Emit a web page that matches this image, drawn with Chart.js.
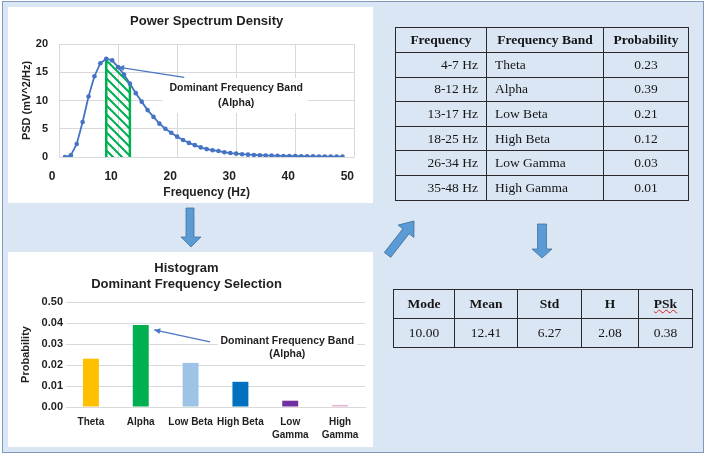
<!DOCTYPE html>
<html>
<head>
<meta charset="utf-8">
<script src="https://cdn.jsdelivr.net/npm/chart.js@4.4.1/dist/chart.umd.min.js"></script>
<style>
  html, body { margin: 0; padding: 0; background: #fff; }
  body { width: 708px; height: 457px; position: relative; overflow: hidden; }
  #frame { position: absolute; left: 2px; top: 1px; width: 700px; height: 450px;
           background: #dbe6f4; border: 1.5px solid #7f98bd; }
  canvas { position: absolute; background: #fff; }
  #psd { left: 8px; top: 7px; }
  #hist { left: 8px; top: 252px; }
  svg { position: absolute; left: 0; top: 0; }
  table { position: absolute; border-collapse: collapse; table-layout: fixed;
          font-family: "Liberation Serif", "Times New Roman", serif; font-size: 13.5px; color: #151515; }
  td, th { border: 1.3px solid #2a2a2a; padding: 0 8px; white-space: nowrap; }
  th { font-weight: bold; text-align: center; }
  #bands { left: 395px; top: 27px; }
  #bands tr { height: 24.6px; }
  #bands tr:first-child { height: 25px; }
  #bands td:nth-child(1) { text-align: right; }
  #bands td:nth-child(2) { text-align: left; }
  #bands td:nth-child(3) { text-align: center; }
  #stats { left: 393px; top: 289px; }
  #stats tr { height: 29px; }
  #stats td { text-align: center; }
  .spell { text-decoration: underline wavy #e02020; text-decoration-thickness: 1px; }
</style>
</head>
<body>
<div id="frame"></div>
<canvas id="psd" width="365" height="196"></canvas>
<canvas id="hist" width="365" height="195"></canvas>
<svg width="708" height="457">
  <g fill="#5b9bd5" stroke="#41719c" stroke-width="0.8">
    <polygon points="186,208 194,208 194,237 201,237 191,247 181,237 186,237"/>
    <polygon points="537.5,224 546.5,224 546.5,249 552,249 542,258 532,249 537.5,249"/>
    <polygon transform="translate(414,221) rotate(38)" points="0,0 10,13 4,13 4,43 -4,43 -4,13 -10,13"/>
  </g>
</svg>
<table id="bands"></table>
<table id="stats"></table>
<script>
// power spectrum (Hz, mV^2/Hz)
const freqs = [1, 2, 3, 4, 5, 6, 7, 8, 9, 10, 11, 12, 13, 14, 15, 16, 17, 18, 19, 20, 21, 22, 23, 24,
  25, 26, 27, 28, 29, 30, 31, 32, 33, 34, 35, 36, 37, 38, 39, 40, 41, 42, 43, 44, 45, 46, 47, 48];
const psd = [0, 0.3, 2.3, 6.2, 10.7, 14.3, 16.6, 17.4, 17.1, 15.9, 14.6, 13.0, 11.3, 9.8, 8.3, 7.1,
  5.9, 5.0, 4.3, 3.6, 3.0, 2.5, 2.1, 1.7, 1.4, 1.2, 1.05, 0.85, 0.7, 0.6, 0.5, 0.42,
  0.36, 0.31, 0.27, 0.24, 0.21, 0.19, 0.17, 0.15, 0.13, 0.12, 0.11, 0.10, 0.09, 0.08, 0.07, 0.06];
const alphaBand = [8, 12];

// band table
const bandRanges = ['4-7 Hz', '8-12 Hz', '13-17 Hz', '18-25 Hz', '26-34 Hz', '35-48 Hz'];
const bandNames = ['Theta', 'Alpha', 'Low Beta', 'High Beta', 'Low Gamma', 'High Gamma'];
const bandProb = ['0.23', '0.39', '0.21', '0.12', '0.03', '0.01'];

// histogram
const histLabels = ['Theta', 'Alpha', 'Low Beta', 'High Beta', ['Low', 'Gamma'], ['High', 'Gamma']];
const histValues = [0.023, 0.039, 0.021, 0.012, 0.003, 0.001];
const histColors = ['#ffc000', '#00b050', '#9dc3e6', '#0070c0', '#7030a0', '#e8b4d4'];
const histTicks = ['0.00', '0.01', '0.02', '0.03', '0.04', '0.50'];

// summary stats
const statNames = ['Mode', 'Mean', 'Std', 'H', 'PSk'];
const statValues = ['10.00', '12.41', '6.27', '2.08', '0.38'];

// tables
let html = '<colgroup><col style="width:91px"><col style="width:117px"><col style="width:85px"></colgroup>';
html += '<tr><th>Frequency</th><th>Frequency Band</th><th>Probability</th></tr>';
bandRanges.forEach((r, i) => {
  html += `<tr><td>${r}</td><td>${bandNames[i]}</td><td>${bandProb[i]}</td></tr>`;
});
document.getElementById('bands').innerHTML = html;

const statW = [61, 63, 64, 57, 54];
html = '<colgroup>' + statW.map(w => `<col style="width:${w}px">`).join('') + '</colgroup>';
html += '<tr>' + statNames.map(n => n === 'PSk' ? `<th><span class="spell">${n}</span></th>` : `<th>${n}</th>`).join('') + '</tr>';
html += '<tr>' + statValues.map(v => `<td>${v}</td>`).join('') + '</tr>';
document.getElementById('stats').innerHTML = html;

Chart.defaults.font.family = '"Liberation Sans", Arial, sans-serif';
Chart.defaults.color = '#1f1f1f';

const gridColor = '#d9d9d9';
const txt = '#1f1f1f';

function makeHatch() {
  const c = document.createElement('canvas');
  c.width = 9; c.height = 9;
  const g = c.getContext('2d');
  g.strokeStyle = '#00b050';
  g.lineWidth = 2;
  g.beginPath();
  g.moveTo(-1, -1); g.lineTo(10, 10);
  g.moveTo(-1, 8); g.lineTo(1, 10);
  g.moveTo(8, -1); g.lineTo(10, 1);
  g.stroke();
  return g.createPattern(c, 'repeat');
}

// text box + arrow drawn in data coordinates
const callout = {
  id: 'callout',
  beforeDatasetsDraw(chart, args, o) {
    const { ctx, scales: { x, y } } = chart;
    ctx.save();
    ctx.fillStyle = '#fff';
    const bx0 = x.getPixelForValue(o.box[0]), bx1 = x.getPixelForValue(o.box[2]);
    const by0 = y.getPixelForValue(o.box[1]), by1 = y.getPixelForValue(o.box[3]);
    ctx.fillRect(bx0, by0, bx1 - bx0, by1 - by0);
    ctx.fillStyle = txt;
    ctx.font = 'bold 10.5px "Liberation Sans", Arial, sans-serif';
    ctx.textAlign = 'center';
    ctx.textBaseline = 'middle';
    o.lines.forEach((t, i) => {
      ctx.fillText(t, x.getPixelForValue(o.textX), y.getPixelForValue(o.textY[i]));
    });
    ctx.restore();
  },
  afterDatasetsDraw(chart, args, o) {
    const { ctx, scales: { x, y } } = chart;
    const tx = x.getPixelForValue(o.tip[0]), ty = y.getPixelForValue(o.tip[1]);
    const sx = x.getPixelForValue(o.tail[0]), sy = y.getPixelForValue(o.tail[1]);
    ctx.save();
    ctx.strokeStyle = '#4a76c2';
    ctx.fillStyle = '#4a76c2';
    ctx.lineWidth = 1.3;
    ctx.beginPath();
    ctx.moveTo(sx, sy);
    ctx.lineTo(tx, ty);
    ctx.stroke();
    const a = Math.atan2(ty - sy, tx - sx);
    ctx.beginPath();
    ctx.moveTo(tx, ty);
    ctx.lineTo(tx - 6 * Math.cos(a) + 3 * Math.sin(a), ty - 6 * Math.sin(a) - 3 * Math.cos(a));
    ctx.lineTo(tx - 6 * Math.cos(a) - 3 * Math.sin(a), ty - 6 * Math.sin(a) + 3 * Math.cos(a));
    ctx.closePath();
    ctx.fill();
    ctx.restore();
  }
};

// PSD chart
const curve = freqs.map((f, i) => ({ x: f, y: psd[i] }));
const band = curve.filter(p => p.x >= alphaBand[0] && p.x <= alphaBand[1]);
const bandPoly = [{ x: alphaBand[0], y: 0 }, ...band, { x: alphaBand[1], y: 0 }];

new Chart(document.getElementById('psd'), {
  type: 'line',
  data: {
    datasets: [
      {
        data: curve,
        borderColor: '#4472c4',
        backgroundColor: '#4472c4',
        borderWidth: 1.8,
        pointRadius: 2.3,
        pointBorderWidth: 0,
        pointBackgroundColor: '#4472c4',
        fill: false,
        tension: 0,
        order: 0
      },
      {
        data: bandPoly,
        borderColor: '#00b050',
        borderWidth: 2.5,
        pointRadius: 0,
        fill: 'origin',
        backgroundColor: makeHatch(),
        segment: {
          borderColor: c => c.p0.parsed.x === c.p1.parsed.x ? '#00b050' : 'rgba(0,0,0,0)'
        },
        tension: 0,
        order: 1
      }
    ]
  },
  options: {
    responsive: false,
    animation: false,
    layout: { padding: { left: 0, right: 16, top: 0, bottom: 0 } },
    plugins: {
      legend: { display: false },
      tooltip: { enabled: false },
      title: {
        display: true,
        fullSize: false,
        text: 'Power Spectrum Density',
        color: txt,
        font: { size: 13, weight: 'bold' },
        padding: { top: 7, bottom: 14.4 }
      },
      callout: {
        box: [17.5, 14.0, 42.2, 7.8],
        lines: ['Dominant Frequency Band', '(Alpha)'],
        textX: 30,
        textY: [12.2, 9.5],
        tip: [10, 15.9],
        tail: [21.2, 14.1]
      }
    },
    scales: {
      x: {
        type: 'linear',
        min: 0,
        max: 50,
        afterFit: s => { s.height = 46; },
        grid: { color: gridColor, drawTicks: false },
        border: { display: false },
        ticks: { stepSize: 10, padding: 12, labelOffset: -7, color: txt, font: { size: 12, weight: 'bold' } },
        title: { display: true, text: 'Frequency (Hz)', color: txt, font: { size: 12, weight: 'bold' }, padding: { top: 0, bottom: 2.8 } }
      },
      y: {
        min: 0,
        max: 20,
        afterFit: s => { s.width = 51; },
        grid: { color: gridColor, drawTicks: false },
        border: { display: false },
        ticks: { stepSize: 5, padding: 11, color: txt, font: { size: 11, weight: 'bold' } },
        title: { display: true, text: 'PSD (mV^2/Hz)', color: txt, font: { size: 11, weight: 'bold' }, padding: { top: 12.4, bottom: 0 } }
      }
    }
  },
  plugins: [callout]
});

// histogram chart
new Chart(document.getElementById('hist'), {
  type: 'bar',
  data: {
    labels: histLabels,
    datasets: [{
      data: histValues,
      backgroundColor: histColors,
      borderWidth: 0,
      barPercentage: 0.32,
      categoryPercentage: 1
    }]
  },
  options: {
    responsive: false,
    animation: false,
    layout: { padding: { left: 0, right: 8, top: 0, bottom: 0 } },
    plugins: {
      legend: { display: false },
      tooltip: { enabled: false },
      title: {
        display: true,
        text: ['Histogram', 'Dominant Frequency Selection'],
        color: txt,
        font: { size: 13, weight: 'bold', lineHeight: 1.3 },
        padding: { top: 7.5, bottom: 8.7 }
      },
      callout: {
        box: [2.55, 0.0352, 5.34, 0.0212],
        lines: ['Dominant Frequency Band', '(Alpha)'],
        textX: 3.94,
        textY: [0.0314, 0.0252],
        tip: [1.27, 0.0367],
        tail: [2.39, 0.031]
      }
    },
    scales: {
      x: {
        offset: true,
        afterFit: s => { s.height = 40; },
        grid: { display: false, drawTicks: false },
        border: { color: gridColor },
        ticks: { padding: 8.6, color: txt, maxRotation: 0, autoSkip: false, font: { size: 10, weight: 'bold', lineHeight: 1.3 } }
      },
      y: {
        min: 0,
        max: 0.05,
        afterFit: s => { s.width = 58; },
        grid: { color: gridColor, drawTicks: false },
        border: { display: false },
        ticks: { stepSize: 0.01, padding: 3, color: txt, font: { size: 11, weight: 'bold' },
                 callback: (v, i) => histTicks[i] },
        title: { display: true, text: 'Probability', color: txt, font: { size: 11, weight: 'bold' }, padding: { top: 11.4, bottom: 0 } }
      }
    }
  },
  plugins: [callout]
});
</script>
</body>
</html>
